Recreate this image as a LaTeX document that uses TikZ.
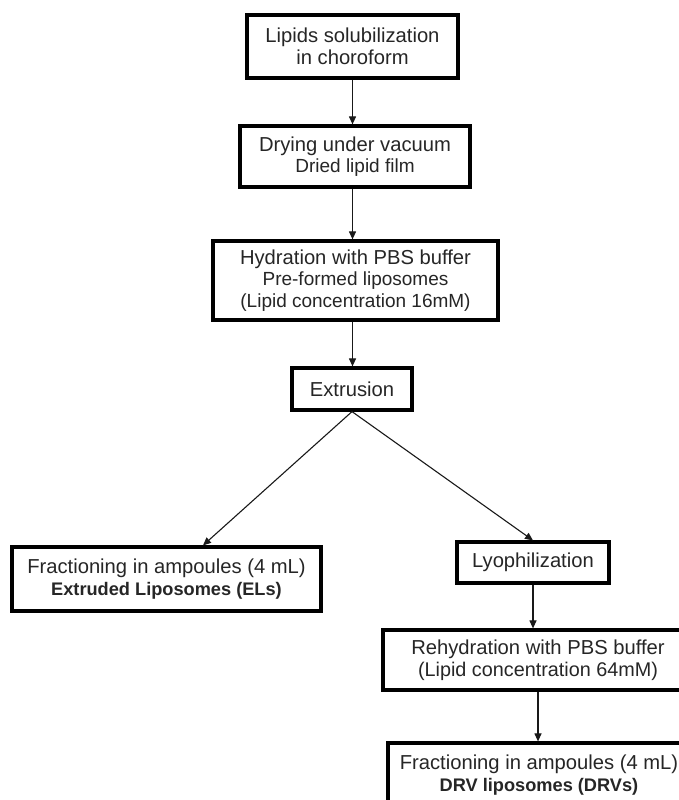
\documentclass[tikz,border=0pt]{standalone}
\usepackage{fontspec}
\setmainfont{Liberation Sans}
\usetikzlibrary{arrows.meta,calc}
\newcommand\sublin[2][19]{{\fontsize{#1}{21}\selectfont #2}}
\newcommand\boldlin[1]{{\fontsize{18.2}{21}\selectfont\bfseries #1}}
\begin{document}
\begin{tikzpicture}[x=1pt,y=-1pt,
  stepbox/.style={draw=black, line width=3.2pt, fill=white, inner sep=0pt,
    align=center, text=black!85, font=\fontsize{20.2}{21.5}\selectfont},
  arr/.style={draw=black!90, line width=1.1pt, -{Triangle[length=8pt,width=7pt]}}]
\clip (0,0) rectangle (679,800);
\fill[white] (0,0) rectangle (679,800);

\node[stepbox, minimum width=211pt, minimum height=63pt] (b1) at (352.5,46.5)
  {Lipids solubilization\\in choroform};
\node[stepbox, minimum width=230pt, minimum height=61pt] (b2) at (355,156.5)
  {Drying under vacuum\\\sublin{Dried lipid film}};
\node[stepbox, minimum width=285pt, minimum height=79pt] (b3) at (355.5,280.5)
  {Hydration with PBS buffer\\\sublin[19]{Pre-formed liposomes}\\\sublin[19]{(Lipid concentration 16mM)}};
\node[stepbox, minimum width=120pt, minimum height=42pt] (b4) at (352,389)
  {Extrusion};
\node[stepbox, minimum width=309pt, minimum height=64pt] (b5) at (166.5,579)
  {Fractioning in ampoules (4 mL)\\\boldlin{Extruded Liposomes (ELs)}};
\node[stepbox, minimum width=152pt, minimum height=41pt] (b6) at (533,562.5)
  {Lyophilization};
\node[stepbox, minimum width=310pt, minimum height=60pt] (b7) at (538,660)
  {Rehydration with PBS buffer\\\sublin[19.8]{(Lipid concentration 64mM)}};
\node[stepbox, minimum width=302pt, minimum height=64pt] (b8) at (539,775)
  {Fractioning in ampoules (4 mL)\\\boldlin{DRV liposomes (DRVs)}};

\coordinate (t5) at ($(b5.north)+(36.5,0)$);

\draw[arr] (b1.south) -- (b1.south |- b2.north);
\draw[arr] (b1.south |- b2.south) -- (b1.south |- b3.north);
\draw[arr] (b1.south |- b3.south) -- (b1.south |- b4.north);
\draw[arr] (b4.south) -- (t5);
\draw[arr] (b4.south) -- (b6.north);
\draw[arr] (b6.south) -- (b6.south |- b7.north);
\draw[arr] (b7.south) -- (b7.south |- b8.north);
\end{tikzpicture}
\end{document}
